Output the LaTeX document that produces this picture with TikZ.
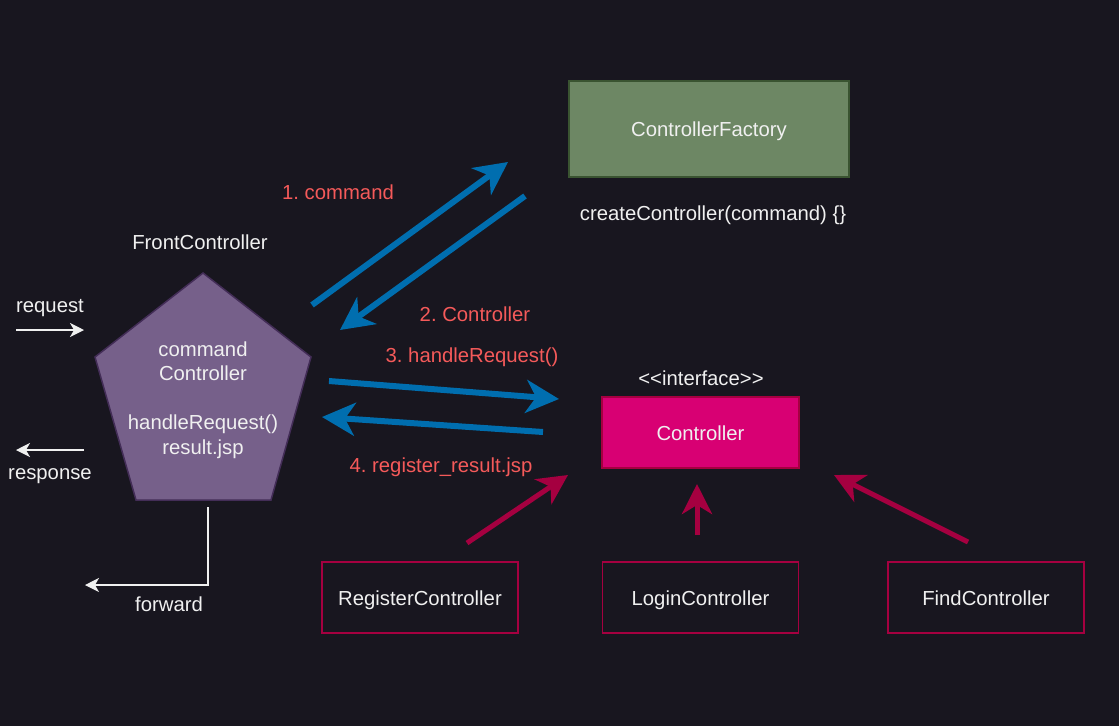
\documentclass[tikz,border=0pt]{standalone}
\usepackage{fontspec}
\setmainfont{Liberation Sans}
\usetikzlibrary{arrows.meta}
\frenchspacing

\definecolor{bgdark}{HTML}{18161F}
\definecolor{txtwhite}{HTML}{F0F0F0}
\definecolor{callred}{HTML}{F55A5A}
\definecolor{callblue}{HTML}{006EAF}
\definecolor{implred}{HTML}{A50040}
\definecolor{ctrlpink}{HTML}{D80073}
\definecolor{factgreen}{HTML}{6D8764}
\definecolor{factedge}{HTML}{3A5431}
\definecolor{frontfill}{HTML}{76608A}
\definecolor{frontedge}{HTML}{432D57}

\begin{document}
\begin{tikzpicture}[x=1pt,y=-1pt,>=latex,
     every node/.style={text=txtwhite,font=\fontsize{20.3}{24.5}\selectfont,
          text height=16.5pt,text depth=1pt},
     note/.style={text=callred},
     factbox/.style={fill=factgreen,draw=factedge,line width=1.5pt,
          minimum width=280pt,minimum height=96pt},
     ifacebox/.style={fill=ctrlpink,draw=implred,line width=1.5pt,
          minimum width=197pt,minimum height=71pt},
     implbox/.style={draw=implred,line width=1.5pt,
          minimum width=196pt,minimum height=71pt},
     flow/.style={draw=callblue,line width=6pt,
          -{Stealth[length=33pt,width=33pt,inset=10pt]}},
     impl/.style={draw=implred,line width=5pt,
          -{Stealth[length=30pt,width=30pt,inset=9pt]}},
     plain/.style={draw=txtwhite,line width=1.5pt,
          -{Stealth[length=14pt,width=14pt,inset=4pt]}}]
     % background
     \fill[bgdark] (0,0) rectangle (1119,726);
     \useasboundingbox (0,0) rectangle (1119,726);

     % front controller (pentagon)
     \coordinate (T) at (203,273);
     \coordinate (L) at (95,357);
     \coordinate (R) at (311,357);
     \coordinate (BL) at (136,500);
     \coordinate (BR) at (271,500);
     \filldraw[fill=frontfill,draw=frontedge,line width=1.5pt]
          (T) -- (R) -- (BR) -- (BL) -- (L) -- cycle;
     \node[align=center,text height=,text depth=] (front) at (203,400)
          {command\\Controller\\[24.5pt]handleRequest()\\result.jsp};
     \node (fronttitle) at (200,242) {FrontController};

     % factory and interface
     \node[factbox] (factory) at (709,129) {ControllerFactory};
     \node (create) at (713,213) {createController(command) \{\}};
     \node[ifacebox] (ctrl) at (700.5,432.5) {Controller};
     \node (iface) at (701,378) {<{}<interface>{}>};

     % implementations
     \node[implbox] (register) at (420,597.5) {RegisterController};
     \node[implbox] (login) at (700.5,597.5) {LoginController};
     \node[implbox] (find) at (986,597.5) {FindController};

     % request / response / forward
     \coordinate (reqA) at (16,330);
     \coordinate (reqB) at (84,330);
     \coordinate (resA) at (84,450);
     \coordinate (resB) at (16,450);
     \coordinate (fwdA) at (208,507);
     \coordinate (fwdB) at (85,585);
     \draw[plain] (reqA) -- (reqB);
     \node (request) at (50,305) {request};
     \draw[plain] (resA) -- (resB);
     \node (response) at (50,472) {response};
     \draw[plain,line width=1.2pt] (fwdA) |- (fwdB);
     \node (forward) at (169,604) {forward};

     % calls between front controller, factory and controller
     \coordinate (c1a) at (312,305);
     \coordinate (c1b) at (508,162);
     \coordinate (c2a) at (525,196);
     \coordinate (c2b) at (340,330);
     \coordinate (c3a) at (329,381);
     \coordinate (c3b) at (559,399);
     \coordinate (c4a) at (543,432);
     \coordinate (c4b) at (322,417);
     \draw[flow] (c1a) -- (c1b);
     \draw[flow] (c2a) -- (c2b);
     \draw[flow] (c3a) -- (c3b);
     \draw[flow] (c4a) -- (c4b);
     \node[note] (step1) at (338,192) {1. command};
     \node[note] (step2) at (475,314) {2. Controller};
     \node[note] (step3) at (472,355) {3. handleRequest()};
     \node[note] (step4) at (441,465) {4. register\_result.jsp};

     % implements
     \coordinate (i1a) at (467,543);
     \coordinate (i1b) at (568,475);
     \coordinate (i2a) at (697,535);
     \coordinate (i2b) at (697,484);
     \coordinate (i3a) at (968,542);
     \coordinate (i3b) at (834,475);
     \draw[impl] (i1a) -- (i1b);
     \draw[impl] (i2a) -- (i2b);
     \draw[impl] (i3a) -- (i3b);
\end{tikzpicture}
\end{document}
